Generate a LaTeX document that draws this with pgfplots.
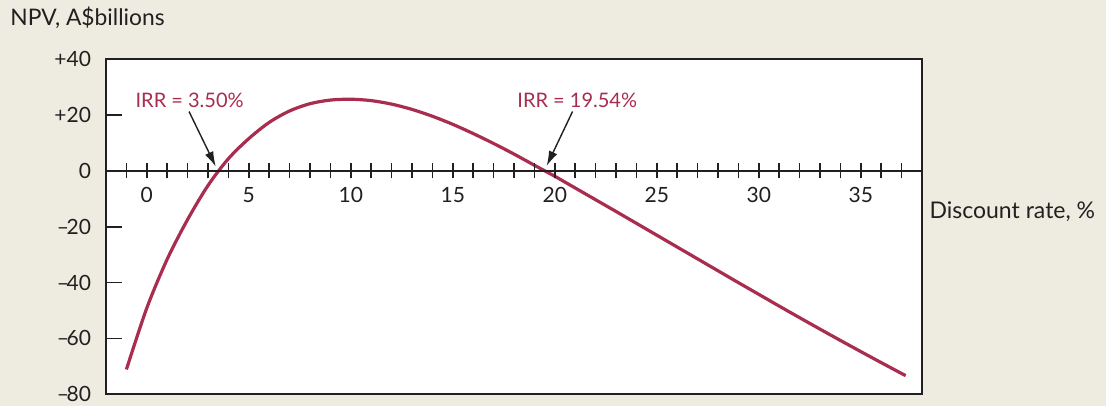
\documentclass[border=0pt]{standalone}
\usepackage{pgfplots}
\pgfplotsset{compat=1.18}
\usetikzlibrary{arrows.meta}
\usepackage{fontspec}
\setmainfont{Lato}
\definecolor{bgcol}{RGB}{238,235,224}
\definecolor{crim}{RGB}{168,45,78}
\definecolor{ink}{RGB}{35,31,32}
\newcommand{\mn}{–\kern-1.2bp}
\begin{document}
\begin{tikzpicture}
\fill[bgcol] (0,0) rectangle (553bp,203bp);
\node[anchor=base west,text=ink,font=\fontsize{11.4bp}{13bp}\selectfont,inner sep=0pt] at (5bp,190.5bp) {NPV, A\$billions};
\begin{axis}[
  scale only axis, width=408bp, height=167.5bp,
  at={(53bp,5.85bp)}, anchor=south west,
  xmin=-2, xmax=38, ymin=-80, ymax=40,
  axis background/.style={fill=white},
  axis line style={ink,line width=0.85bp},
  xtick=\empty,
  ytick={-80,-60,-40,-20,0,20,40},
  yticklabels={\mn80,\mn60,\mn40,\mn20,0,+20,+40},
  ytick pos=left, tick align=inside,
  major tick length=8bp,
  tick style={ink,line width=0.85bp},
  yticklabel style={text=ink,font=\fontsize{10.5bp}{12bp}\selectfont,xshift=-4bp},
  clip=false,
]
\addplot[crim,line width=1.6bp,smooth] coordinates {
(-1.0,-71.1) (0,-49.1) (1,-31.6) (2,-17.4) (3,-5.2) (4,4.4) (5,11.6)
(6,17.4) (7,21.5) (8,24.1) (9,25.4) (10,25.7) (11,25.2) (12,23.95)
(13,22.05) (14,19.6) (15,16.7) (16,13.4) (17,9.85) (18,6.05) (19,2.05)
(20,-1.9) (21,-6.1) (22,-10.3) (23,-14.5) (24,-18.75) (25,-23.0)
(26,-27.25) (27,-31.5) (28,-35.75) (29,-40.0) (30,-44.2) (31,-48.4)
(32,-52.55) (33,-56.65) (34,-60.7) (35,-64.7) (36,-68.65) (37,-72.55) (37.2,-73.3)
};
\node[text=crim,font=\fontsize{10bp}{12bp}\selectfont] at (axis cs:2.1,25.4) {IRR = 3.50\%};
\node[text=crim,font=\fontsize{10bp}{12bp}\selectfont] at (axis cs:21.1,25.2) {IRR = 19.54\%};
\draw[ink,line width=0.7bp,-{Latex[length=7.5bp,width=4.5bp]}] (axis cs:2.07,21.3) -- (axis cs:3.38,1.6);
\draw[ink,line width=0.7bp,-{Latex[length=7.5bp,width=4.5bp]}] (axis cs:20.87,21.3) -- (axis cs:19.6,1.8);
\node[anchor=west,text=ink,font=\fontsize{11.5bp}{13bp}\selectfont,inner sep=0pt] at (axis cs:38.35,-14.7) {Discount rate, \%};
\end{axis}
\begin{axis}[
  scale only axis, width=408bp, height=167.5bp,
  at={(53bp,5.85bp)}, anchor=south west,
  xmin=-2, xmax=38, ymin=-80, ymax=40,
  axis x line=middle, axis y line=none,
  x axis line style={-,ink,line width=0.85bp},
  xtick={0,5,...,35},
  minor xtick={-1,...,37},
  tick align=center,
  major tick length=7.5bp, minor tick length=7.5bp,
  tick style={ink,line width=0.85bp},
  xticklabel style={text=ink,font=\fontsize{10.5bp}{12bp}\selectfont,anchor=north,yshift=-1bp},
  xticklabel={\pgfmathprintnumber{\tick}},
  /pgf/number format/assume math mode=true,
]
\end{axis}
\end{tikzpicture}
\end{document}
